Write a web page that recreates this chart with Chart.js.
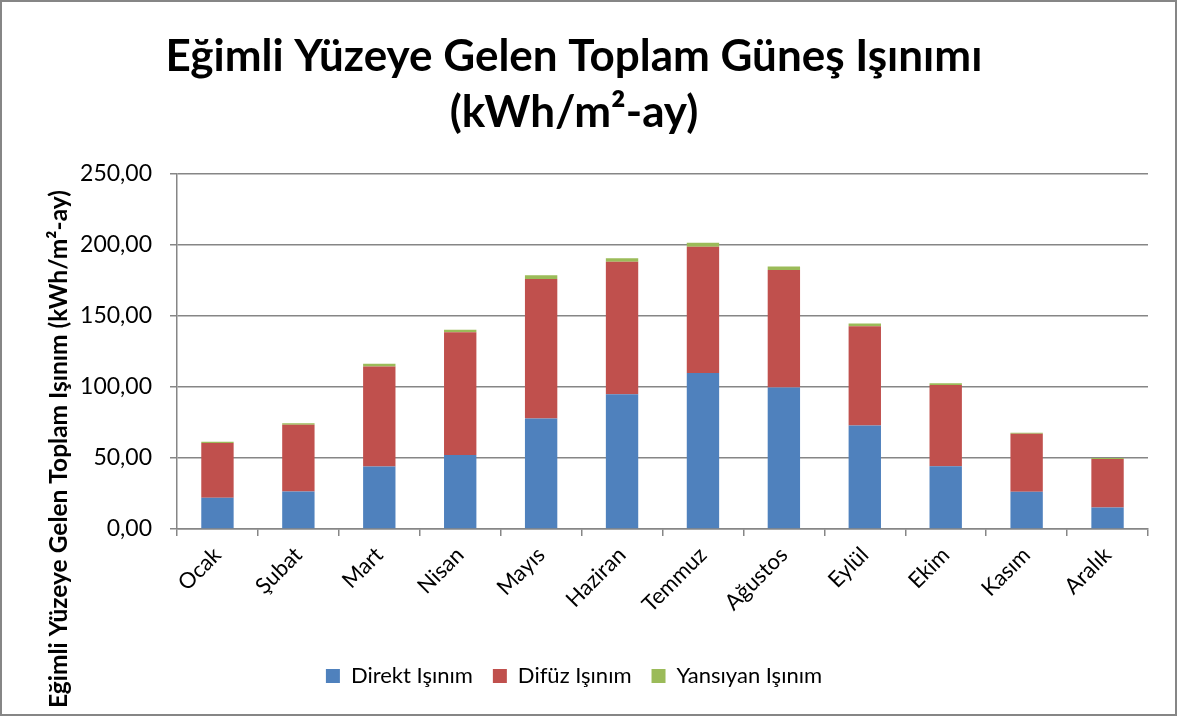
<!doctype html>
<html lang="tr">
<head>
<meta charset="utf-8">
<title>Eğimli Yüzeye Gelen Toplam Güneş Işınımı</title>
<style>
  *{ margin:0; padding:0; box-sizing:border-box; }
  body{ background:#fff; }
  .chartbox{ width:1177px; height:716px; position:relative; }
</style>
</head>
<body>
<div class="chartbox">
  <canvas id="myChart"></canvas>
</div>
<script src="https://cdn.jsdelivr.net/npm/chart.js@4/dist/chart.umd.min.js"></script>
<script>
const months = ['Ocak','Şubat','Mart','Nisan','Mayıs','Haziran','Temmuz','Ağustos','Eylül','Ekim','Kasım','Aralık'];
const direkt = [22.0, 26.4, 43.9, 52.1, 77.8, 94.8, 109.7, 99.5, 72.9, 44.1, 26.2, 15.1];
const difuz = [38.6, 46.9, 70.5, 86.3, 98.1, 93.2, 88.9, 82.8, 69.8, 57.3, 40.8, 34.2];
const yansiyan = [0.8, 1.2, 1.9, 1.9, 2.6, 2.6, 2.8, 2.4, 1.9, 1.2, 0.7, 0.7];
const yTicks = [0, 50, 100, 150, 200, 250];

const FONT = 'Lato, "Open Sans", sans-serif';
const gridGray = '#868686';

// outer frame + rotated y title
const decor = {
  id: 'decor',
  beforeDraw(chart) {
    const c = chart.ctx;
    c.save();
    c.fillStyle = '#fff';
    c.fillRect(0, 0, chart.width, chart.height);
    c.restore();
  },
  afterDraw(chart) {
    const c = chart.ctx;
    c.save();
    c.strokeStyle = gridGray;
    c.lineWidth = 2;
    c.strokeRect(1, 1, chart.width - 2, chart.height - 2);
    c.translate(59, 449);
    c.rotate(-Math.PI / 2);
    c.font = 'bold 24.5px ' + FONT;
    c.fillStyle = '#000';
    c.textAlign = 'center';
    c.textBaseline = 'middle';
    c.fillText('Eğimli Yüzeye Gelen Toplam Işınım (kWh/m²-ay)', 0, 0);
    c.restore();
  }
};

const ctx = document.getElementById('myChart').getContext('2d');
const myChart = new Chart(ctx, {
  type: 'bar',
  data: {
    labels: months,
    datasets: [
      { label: 'Direkt Işınım', data: direkt, backgroundColor: '#4F81BD' },
      { label: 'Difüz Işınım', data: difuz, backgroundColor: '#C0504D' },
      { label: 'Yansıyan Işınım', data: yansiyan, backgroundColor: '#9BBB59' }
    ]
  },
  options: {
    responsive: true,
    maintainAspectRatio: false,
    animation: false,
    datasets: { bar: { barPercentage: 0.4, categoryPercentage: 1.0 } },
    layout: { padding: { top: 0, right: 29, bottom: 19, left: 0 } },
    plugins: {
      title: {
        display: true,
        text: ['Eğimli Yüzeye Gelen Toplam Güneş Işınımı', '(kWh/m²-ay)'],
        color: '#000',
        font: { family: FONT, size: 44, weight: 'bold', lineHeight: 1.27 },
        padding: { top: 29, bottom: 33 }
      },
      legend: {
        position: 'bottom',
        labels: {
          color: '#000',
          font: { family: FONT, size: 22 },
          boxWidth: 14,
          boxHeight: 14,
          padding: 20
        }
      },
      tooltip: { enabled: false }
    },
    scales: {
      x: {
        stacked: true,
        grid: { drawOnChartArea: false, color: gridGray, lineWidth: 1.5, tickLength: 7, offset: true },
        border: { color: gridGray, width: 1.5 },
        ticks: { color: '#000', font: { family: FONT, size: 22 }, maxRotation: 45, minRotation: 45, padding: 6 },
        afterFit(scale) { scale.height = 116; }
      },
      y: {
        stacked: true,
        min: 0,
        max: 250,
        grid: { color: gridGray, lineWidth: 1.5, tickLength: 7 },
        border: { color: gridGray, width: 1.5 },
        ticks: {
          stepSize: 50,
          color: '#000',
          padding: 18,
          font: { family: FONT, size: 23 },
          callback: v => yTicks.includes(v) ? v.toFixed(2).replace('.', ',') : ''
        },
        afterFit(scale) { scale.width = 177; }
      }
    }
  },
  plugins: [decor]
});
</script>
</body>
</html>
